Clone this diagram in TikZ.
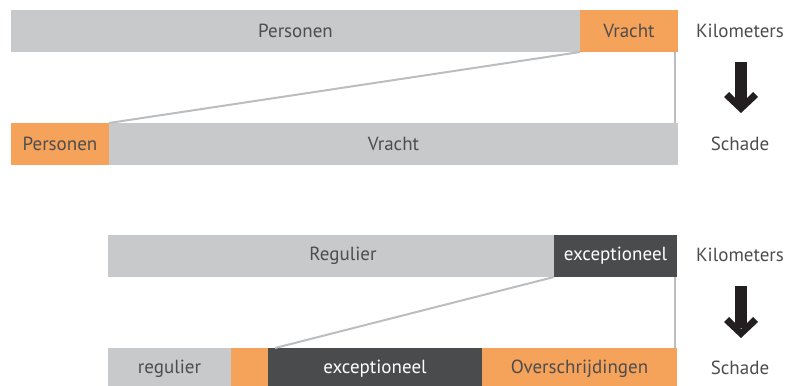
\documentclass[tikz,border=0pt]{standalone}
\usepackage{fontspec}
\setmainfont{PT Sans}
\usepackage{xcolor}
\definecolor{bargray}{RGB}{200,201,203}
\definecolor{barorange}{RGB}{245,162,90}
\definecolor{bardark}{RGB}{74,75,77}
\definecolor{linkgray}{RGB}{188,189,191}
\definecolor{textgray}{RGB}{77,77,79}
\definecolor{arrowblack}{RGB}{35,31,32}
\usepackage{tikz}
\newcommand{\heightbar}{42pt}
\newcommand{\sizetext}{\fontsize{19}{22}\selectfont}
\tikzset{
    common/.style={anchor=north west, rectangle, minimum height=\heightbar, inner sep=0pt, outer sep=0pt, text=textgray, font=\sizetext},
    part-gray/.style={common, fill=bargray},
    part-orange/.style={common, fill=barorange},
    part-dark/.style={common, fill=bardark, text=white},
    unit/.style={text=textgray, font=\sizetext},
    link/.style={linkgray, line width=2pt},
    change/.style={arrowblack, line width=12pt, shorten <=31pt, shorten >=40pt},
    chevron/.style={insert path={-- ++(-17,-16) -- ++(5,-5) -- ++(12,12) -- ++(12,-12) -- ++(5,5) -- cycle}}
}

\begin{document}
\begin{tikzpicture}[x=1pt, y=-1pt]
      \useasboundingbox (0,0) rectangle (791,385);
      \clip (0,0) rectangle (791,385);

      % vervoerssoort
      \node[part-gray, minimum width=569] (a-personen) at (11,10) {Personen};
      \node[part-orange, minimum width=98] (a-vracht) at (580,10) {Vracht};
      \node[part-orange, minimum width=98] (b-personen) at (11,123) {Personen};
      \node[part-gray, minimum width=569] (b-vracht) at (109,123) {Vracht};

      \node[unit] (a-km) at (740,31) {Kilometers};
      \node[unit] (b-schade) at (740,144) {Schade};

      \draw[link] (b-vracht.north west) -- (a-vracht.south west);
      \draw[link] ([xshift=-3pt]a-vracht.south east) -- ([xshift=-3pt]b-vracht.north east);
      \draw[change] ([xshift=1pt]a-km.center) -- ([xshift=1pt]b-schade.center);
      \fill[arrowblack] ([xshift=1pt, yshift=31pt]b-schade.center) [chevron];

      % regulier en exceptioneel
      \node[part-gray, minimum width=446] (c-regulier) at (108,235) {\hspace*{24pt}Regulier};
      \node[part-dark, minimum width=123] (c-exceptioneel) at (554,235) {exceptioneel};
      \node[part-gray, minimum width=123] (d-regulier) at (108,348) {regulier};
      \node[part-orange, minimum width=37] (d-extra) at (231,348) {};
      \node[part-dark, minimum width=214] (d-exceptioneel) at (268,348) {exceptioneel};
      \node[part-orange, minimum width=195] (d-over) at (482,348) {Overschrijdingen};

      \node[unit] (c-km) at (740,255) {Kilometers};
      \node[unit] (d-schade) at (740,368) {Schade};

      \draw[link] ([xshift=7pt]d-exceptioneel.north west) -- (c-exceptioneel.south west);
      \draw[link] ([xshift=-2pt]c-exceptioneel.south east) -- ([xshift=-2pt]d-over.north east);
      \draw[change] ([xshift=1pt]c-km.center) -- ([xshift=1pt]d-schade.center);
      \fill[arrowblack] ([xshift=1pt, yshift=30pt]d-schade.center) [chevron];
\end{tikzpicture}
\end{document}
